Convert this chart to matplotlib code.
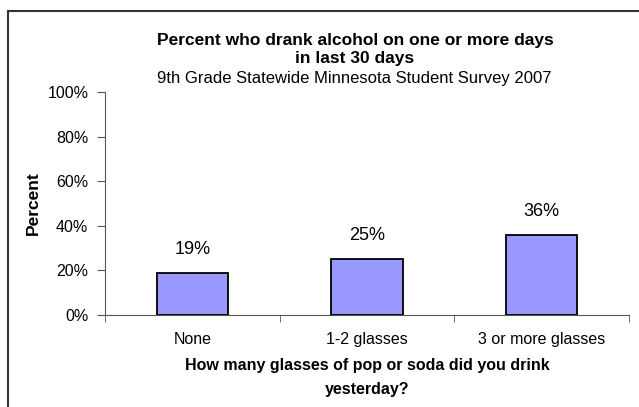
import matplotlib
matplotlib.use("Agg")
import matplotlib.pyplot as plt
from matplotlib.patches import Rectangle

plt.rcParams['font.family'] = ['Liberation Sans', 'DejaVu Sans']

categories = ['None', '1-2 glasses', '3 or more glasses']
values = [19, 25, 36]
yticks = [0, 20, 40, 60, 80, 100]
title = 'Percent who drank alcohol on one or more days\nin last 30 days'
subtitle = '9th Grade Statewide Minnesota Student Survey 2007'
xlabel = 'How many glasses of pop or soda did you drink\nyesterday?'
ylabel = 'Percent'

fig = plt.figure(figsize=(6.39, 4.07), dpi=100)
ax = fig.add_axes([105/639, 1-315/407, 524/639, 223/407])

x = range(len(categories))
ax.bar(x, values, width=0.41, color='#9999FF', edgecolor='black', linewidth=1.3, zorder=3)
for i, v in zip(x, values):
    ax.text(i, v + 10.5, f'{v}%', ha='center', va='center', fontsize=13)

ax.set_xlim(-0.5, 2.5)
ax.set_ylim(0, 100)
ax.set_yticks(yticks)
ax.set_yticklabels([f'{t}%' for t in yticks], fontsize=11.5)
ax.set_xticks(list(x))
ax.set_xticklabels(categories, fontsize=11.5)
ax.set_xticks([-0.5, 0.5, 1.5, 2.5], minor=True)
ax.tick_params(axis='x', which='major', length=0, pad=12)
ax.tick_params(axis='x', which='minor', length=5, direction='out', color='#555555')
ax.tick_params(axis='y', length=6, direction='out', color='#555555', pad=6)
for s in ['top', 'right']:
    ax.spines[s].set_visible(False)
for s in ['left', 'bottom']:
    ax.spines[s].set_color('#555555')

ax.set_xlabel(xlabel, fontsize=11.5, fontweight='bold', labelpad=8, linespacing=1.75)
ax.set_ylabel(ylabel, fontsize=12.5, fontweight='heavy', labelpad=5)

fig.text(355/639, 1-49/407, title, ha='center', va='center', fontsize=12.5,
         fontweight='bold', linespacing=1.25)
fig.text(354/639, 1-78/407, subtitle, ha='center', va='center', fontsize=12)

fig.patches.append(Rectangle((8/639, -0.1), 1.2, 1 - 11/407 + 0.1, transform=fig.transFigure,
                             fill=False, edgecolor='#333333', linewidth=1.5))

fig.savefig('out.png', dpi=100)
